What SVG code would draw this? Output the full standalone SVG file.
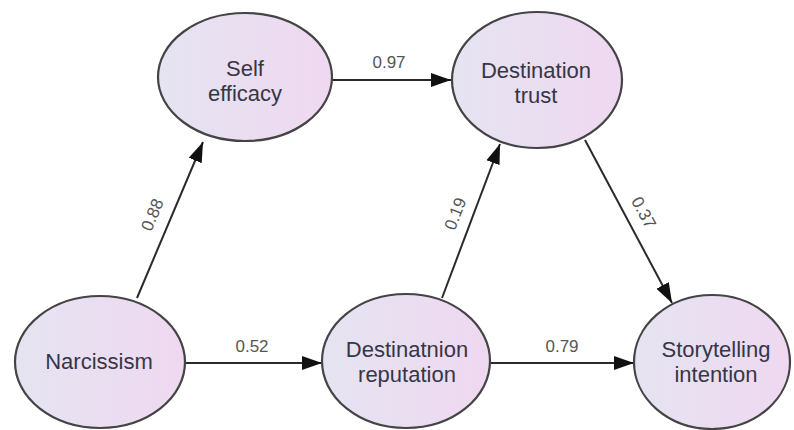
<svg xmlns="http://www.w3.org/2000/svg" width="794" height="430" viewBox="0 0 794 430">
<defs>
<linearGradient id="g" x1="0" y1="0" x2="1" y2="0">
<stop offset="0" stop-color="#e5e4f1"/>
<stop offset="1" stop-color="#efd8f1"/>
</linearGradient>
<marker id="arr" markerUnits="userSpaceOnUse" markerWidth="22" markerHeight="16" refX="20" refY="8" orient="auto">
<path d="M0,1 L20,8 L0,15 Z" fill="#111"/>
</marker>
<style>
.node ellipse{fill:url(#g);stroke:#444;stroke-width:2.2}
.node text{font-family:"Liberation Sans",Arial,sans-serif;font-size:22px;fill:#363646;text-anchor:middle}
.edge line{stroke:#2a2a2a;stroke-width:2;marker-end:url(#arr)}
.lbl{font-family:"Liberation Sans",Arial,sans-serif;font-size:17px;fill:#555;text-anchor:middle}
</style>
</defs>
<rect width="794" height="430" fill="#fff"/>
<g id="connectors" class="edge">
<line x1="332" y1="80" x2="451" y2="80"/>
<line x1="137" y1="298" x2="203" y2="142"/>
<line x1="185" y1="363" x2="322" y2="363"/>
<line x1="442" y1="298" x2="500" y2="144"/>
<line x1="585" y1="140" x2="672" y2="303"/>
<line x1="490" y1="363" x2="634" y2="363"/>
<text class="lbl" x="389" y="68">0.97</text>
<text class="lbl" x="252" y="352">0.52</text>
<text class="lbl" x="562" y="352">0.79</text>
<text class="lbl" transform="translate(153,215) rotate(-67)" y="5">0.88</text>
<text class="lbl" transform="translate(456,214) rotate(-69)" y="5">0.19</text>
<text class="lbl" transform="translate(643,213) rotate(62)" y="5">0.37</text>
</g>
<g id="self-efficacy" class="node">
<ellipse cx="245" cy="77" rx="87" ry="64"/>
<text x="245" y="76">Self</text>
<text x="245" y="101">efficacy</text>
</g>
<g id="destination-trust" class="node">
<ellipse cx="537" cy="80" rx="85" ry="68"/>
<text x="536" y="78">Destination</text>
<text x="536" y="103">trust</text>
</g>
<g id="narcissism" class="node">
<ellipse cx="100" cy="362" rx="85" ry="66"/>
<text x="99" y="369">Narcissism</text>
</g>
<g id="destination-reputation" class="node">
<ellipse cx="406" cy="361" rx="84" ry="67"/>
<text x="407" y="357">Destinatnion</text>
<text x="407" y="382">reputation</text>
</g>
<g id="storytelling-intention" class="node">
<ellipse cx="712" cy="362" rx="78" ry="67"/>
<text x="716" y="357">Storytelling</text>
<text x="716" y="382">intention</text>
</g>
</svg>
